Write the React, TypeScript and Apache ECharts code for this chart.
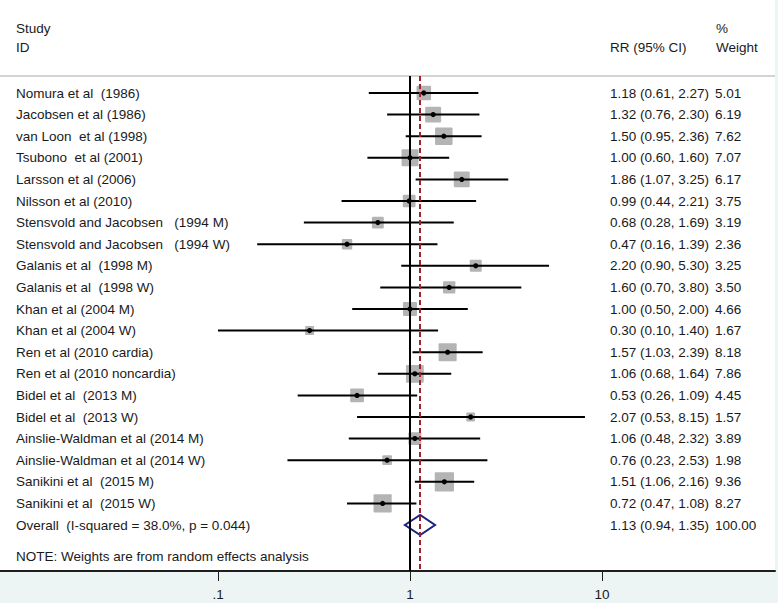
import React, { useEffect, useRef } from "react";
import * as echarts from "echarts";

const headerLeft = ["Study", "ID"];
const headerCI = "RR (95% CI)";
const headerWeight = ["%", "Weight"];
const noteText = "NOTE: Weights are from random effects analysis";

const studyLabels = [
  "Nomura et al  (1986)",
  "Jacobsen et al (1986)",
  "van Loon  et al (1998)",
  "Tsubono  et al (2001)",
  "Larsson et al (2006)",
  "Nilsson et al (2010)",
  "Stensvold and Jacobsen   (1994 M)",
  "Stensvold and Jacobsen   (1994 W)",
  "Galanis et al  (1998 M)",
  "Galanis et al  (1998 W)",
  "Khan et al (2004 M)",
  "Khan et al (2004 W)",
  "Ren et al (2010 cardia)",
  "Ren et al (2010 noncardia)",
  "Bidel et al  (2013 M)",
  "Bidel et al  (2013 W)",
  "Ainslie-Waldman et al (2014 M)",
  "Ainslie-Waldman et al (2014 W)",
  "Sanikini et al  (2015 M)",
  "Sanikini et al  (2015 W)",
];
const rr = [1.18, 1.32, 1.5, 1.0, 1.86, 0.99, 0.68, 0.47, 2.2, 1.6, 1.0, 0.3, 1.57, 1.06, 0.53, 2.07, 1.06, 0.76, 1.51, 0.72];
const ciLower = [0.61, 0.76, 0.95, 0.6, 1.07, 0.44, 0.28, 0.16, 0.9, 0.7, 0.5, 0.1, 1.03, 0.68, 0.26, 0.53, 0.48, 0.23, 1.06, 0.47];
const ciUpper = [2.27, 2.3, 2.36, 1.6, 3.25, 2.21, 1.69, 1.39, 5.3, 3.8, 2.0, 1.4, 2.39, 1.64, 1.09, 8.15, 2.32, 2.53, 2.16, 1.08];
const weights = [5.01, 6.19, 7.62, 7.07, 6.17, 3.75, 3.19, 2.36, 3.25, 3.5, 4.66, 1.67, 8.18, 7.86, 4.45, 1.57, 3.89, 1.98, 9.36, 8.27];

const overallLabel = "Overall  (I-squared = 38.0%, p = 0.044)";
const overallRR = 1.13;
const overallLower = 0.94;
const overallUpper = 1.35;
const overallWeight = "100.00";

const nullValue = 1;
const xTicks = [0.1, 1, 10];
const xTickLabels = [".1", "1", "10"];

// layout
const W = 778;
const H = 603;
const panelW = 775;
const panelBottom = 571;
const headerLineY = 76;
const firstRowY = 93;
const rowStep = 21.6;
const x1px = 410;
const pxPerDecade = 192;
const FONT = "'Liberation Sans', Arial, sans-serif";
const FS = 13.5;
const TXT = "#1a1a1a";
const colLabelX = 16;
const colCIX = 610;
const colWX = 715;

export default function App() {
  const ref = useRef<HTMLDivElement>(null);
  useEffect(() => {
    if (!ref.current) return;
    const chart = echarts.init(ref.current, undefined, { renderer: "svg" });
    const xMin = Math.pow(10, (0 - x1px) / pxPerDecade);
    const xMax = Math.pow(10, (panelW - x1px) / pxPerDecade);
    const yMin = (headerLineY - firstRowY) / rowStep;
    const yMax = (panelBottom - firstRowY) / rowStep;
    const overallRow = studyLabels.length;
    const noteRowY = firstRowY + rowStep * (overallRow + 1.44);

    const studyData = rr.map((v, i) => [i, v, ciLower[i], ciUpper[i], weights[i]]);
    const fmt = (v: number) => v.toFixed(2);
    const txtStyle = (text: string) => ({
      text,
      fill: TXT,
      fontSize: FS,
      fontFamily: FONT,
      verticalAlign: "middle",
      align: "left",
    });

    chart.setOption({
      animation: false,
      backgroundColor: "#edf4f4",
      grid: { left: 0, right: W - panelW, top: headerLineY, bottom: H - panelBottom, containLabel: false },
      xAxis: {
        type: "log",
        logBase: 10,
        min: xMin,
        max: xMax,
        position: "bottom",
        axisLine: { show: true, onZero: false, lineStyle: { color: "#1e1e1e", width: 2 } },
        axisTick: { show: true, customValues: xTicks, length: 10, lineStyle: { color: "#1e1e1e", width: 1 } },
        axisLabel: {
          show: true,
          customValues: xTicks,
          formatter: (v: number) => {
            const k = xTicks.findIndex((t) => Math.abs(t - v) < 1e-9);
            return k >= 0 ? xTickLabels[k] : "";
          },
          color: TXT,
          fontSize: FS,
          fontFamily: FONT,
          margin: 16,
        },
        splitLine: { show: false },
        minorTick: { show: false },
      },
      yAxis: {
        type: "value",
        inverse: true,
        min: yMin,
        max: yMax,
        show: false,
        axisLine: { onZero: false },
        splitLine: { show: false },
      },
      graphic: [
        { type: "rect", z: -10, shape: { x: 0, y: 0, width: panelW, height: panelBottom }, style: { fill: "#ffffff" } },
        { type: "line", shape: { x1: 0, y1: headerLineY, x2: panelW, y2: headerLineY }, style: { stroke: "#c4c4c4", lineWidth: 1.5 } },
        { type: "text", x: colLabelX, y: 28, style: txtStyle(headerLeft[0]) },
        { type: "text", x: colLabelX, y: 47, style: txtStyle(headerLeft[1]) },
        { type: "text", x: colCIX, y: 47, style: txtStyle(headerCI) },
        { type: "text", x: colWX + 1, y: 28, style: txtStyle(headerWeight[0]) },
        { type: "text", x: colWX + 1, y: 47, style: txtStyle(headerWeight[1]) },
        { type: "text", x: colLabelX, y: noteRowY, style: txtStyle(noteText) },
      ],
      series: [
        {
          type: "custom",
          z: 2,
          clip: false,
          encode: { x: [1, 2, 3], y: 0 },
          data: studyData,
          renderItem: (params: any, api: any) => {
            const idx = params.dataIndex;
            const i = api.value(0);
            const e = api.value(1);
            const lo = api.value(2);
            const hi = api.value(3);
            const w = api.value(4);
            const pE = api.coord([e, i]);
            const pL = api.coord([lo, i]);
            const pH = api.coord([hi, i]);
            const s = 5.8 * Math.sqrt(w) + 1.5;
            return {
              type: "group",
              children: [
                { type: "rect", shape: { x: pE[0] - s / 2, y: pE[1] - s / 2, width: s, height: s, r: 1 }, style: { fill: "#b4b4b4" } },
                { type: "line", shape: { x1: pL[0], y1: pL[1], x2: pH[0], y2: pH[1] }, style: { stroke: "#000", lineWidth: 2 } },
                { type: "circle", shape: { cx: pE[0], cy: pE[1], r: 2.6 }, style: { fill: "#000" } },
                { type: "text", x: colLabelX, y: pE[1], style: txtStyle(studyLabels[idx]) },
                { type: "text", x: colCIX, y: pE[1], style: txtStyle(`${fmt(e)} (${fmt(lo)}, ${fmt(hi)})`) },
                { type: "text", x: colWX, y: pE[1], style: txtStyle(fmt(w)) },
              ],
            };
          },
        },
        {
          type: "line",
          z: 3,
          data: [],
          markLine: {
            silent: true,
            symbol: ["none", "none"],
            label: { show: false },
            animation: false,
            data: [
              { xAxis: nullValue, lineStyle: { color: "#000", width: 2, type: "solid" } },
              { xAxis: overallRR, lineStyle: { color: "#a3202c", width: 2, type: [5, 3] } },
            ],
          },
        },
        {
          type: "custom",
          z: 4,
          clip: false,
          encode: { x: [1, 2, 3], y: 0 },
          data: [[overallRow, overallRR, overallLower, overallUpper]],
          renderItem: (params: any, api: any) => {
            const i = api.value(0);
            const e = api.value(1);
            const lo = api.value(2);
            const hi = api.value(3);
            const pE = api.coord([e, i]);
            const pL = api.coord([lo, i]);
            const pH = api.coord([hi, i]);
            const hh = 10;
            return {
              type: "group",
              children: [
                {
                  type: "polygon",
                  shape: { points: [[pL[0], pL[1]], [pE[0], pE[1] - hh], [pH[0], pH[1]], [pE[0], pE[1] + hh]] },
                  style: { fill: "none", stroke: "#1c2380", lineWidth: 2 },
                },
                { type: "text", x: colLabelX, y: pE[1], style: txtStyle(overallLabel) },
                { type: "text", x: colCIX, y: pE[1], style: txtStyle(`${fmt(e)} (${fmt(lo)}, ${fmt(hi)})`) },
                { type: "text", x: colWX, y: pE[1], style: txtStyle(overallWeight) },
              ],
            };
          },
        },
      ],
    });
    return () => chart.dispose();
  }, []);
  return <div ref={ref} style={{ position: "fixed", left: 0, top: 0, width: W, height: H }} />;
}
